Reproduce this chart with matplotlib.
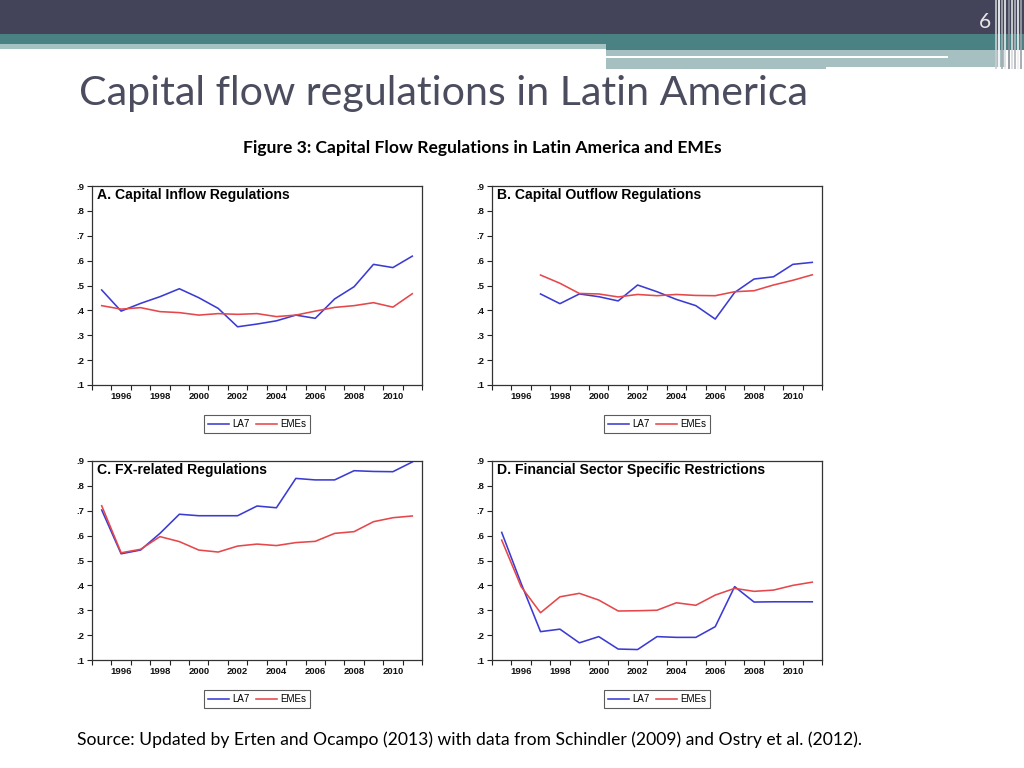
import matplotlib
matplotlib.use("Agg")
import matplotlib.pyplot as plt
from matplotlib.patches import Rectangle

# ---------------- data ----------------
years = list(range(1995, 2012))
years_b = list(range(1997, 2012))

a_la7 = [0.482, 0.397, 0.428, 0.455, 0.487, 0.451, 0.408, 0.334, 0.345, 0.358,
         0.381, 0.368, 0.446, 0.495, 0.585, 0.572, 0.618]
a_emes = [0.419, 0.405, 0.411, 0.395, 0.391, 0.381, 0.387, 0.384, 0.387, 0.375,
          0.381, 0.397, 0.412, 0.419, 0.431, 0.413, 0.467]

b_la7 = [0.466, 0.427, 0.466, 0.455, 0.438, 0.502, 0.475, 0.444, 0.419, 0.365,
         0.472, 0.526, 0.535, 0.585, 0.593]
b_emes = [0.542, 0.509, 0.468, 0.466, 0.454, 0.464, 0.459, 0.464, 0.460, 0.459,
          0.475, 0.479, 0.502, 0.521, 0.543]

c_la7 = [0.703, 0.527, 0.542, 0.609, 0.686, 0.680, 0.680, 0.680, 0.719, 0.712,
         0.830, 0.824, 0.824, 0.861, 0.858, 0.857, 0.896]
c_emes = [0.720, 0.531, 0.545, 0.596, 0.576, 0.542, 0.534, 0.558, 0.566, 0.560,
          0.572, 0.577, 0.609, 0.616, 0.656, 0.672, 0.679]

d_la7 = [0.613, 0.408, 0.214, 0.224, 0.169, 0.194, 0.144, 0.142, 0.194, 0.191,
         0.191, 0.234, 0.395, 0.333, 0.334, 0.334, 0.334]
d_emes = [0.582, 0.395, 0.290, 0.354, 0.368, 0.341, 0.297, 0.298, 0.300, 0.330,
          0.320, 0.361, 0.388, 0.376, 0.381, 0.400, 0.413]

panel_titles = ["A. Capital Inflow Regulations", "B. Capital Outflow Regulations",
                "C. FX-related Regulations", "D. Financial Sector Specific Restrictions"]
series_names = ["LA7", "EMEs"]
year_labels = ["1996", "1998", "2000", "2002", "2004", "2006", "2008", "2010"]
y_ticks = [0.1, 0.2, 0.3, 0.4, 0.5, 0.6, 0.7, 0.8, 0.9]
y_labels = [".1", ".2", ".3", ".4", ".5", ".6", ".7", ".8", ".9"]

slide_title = "Capital flow regulations in Latin America"
fig_caption = "Figure 3: Capital Flow Regulations in Latin America and EMEs"
source_note = "Source: Updated by Erten and Ocampo (2013) with data from Schindler (2009) and Ostry et al. (2012)."
page_number = "6"

# ---------------- figure ----------------
W, H = 1024, 768
fig = plt.figure(figsize=(W / 100, H / 100), dpi=100)
fig.patch.set_facecolor("white")

bg = fig.add_axes([0, 0, 1, 1], zorder=0)
bg.set_xlim(0, W)
bg.set_ylim(H, 0)
bg.axis("off")

# header bands
bg.add_patch(Rectangle((0, 0), W, 34, color="#434459", lw=0))
bg.add_patch(Rectangle((0, 34), W, 10, color="#4a8183", lw=0))
bg.add_patch(Rectangle((0, 44), 606, 5, color="#a6c3c4", lw=0))
bg.add_patch(Rectangle((606, 34), W - 606, 16, color="#4a8183", lw=0))
bg.add_patch(Rectangle((606, 50), 400, 17, color="#a6c0c2", lw=0))
bg.add_patch(Rectangle((606, 66), 220, 3, color="#a6c0c2", lw=0))
bg.add_patch(Rectangle((606, 55.5), 342, 2.5, color="white", lw=0))
# right vertical stripes
stripe_x = [995, 998, 1001, 1004, 1008, 1011, 1014, 1017, 1020]
stripe_c = ["#c8ccd0", "#ffffff", "#a8acb4", "#e8eaec", "#8a8e98", "#d8dadd", "#b0b4ba", "#f0f0f0", "#9ca0a8"]
for sx, sc in zip(stripe_x, stripe_c):
    bg.add_patch(Rectangle((sx, 0), 2, 69, color=sc, lw=0, alpha=0.85))

bg.text(985, 22, page_number, color="#e6e6e6", fontsize=15, ha="center", va="center",
        family="Lato")
bg.text(79, 93, slide_title, color="#4b4d5f", fontsize=29.6, ha="left", va="center",
        family="Lato")
bg.text(482, 147.5, fig_caption, color="black", fontsize=12.6, ha="center", va="center",
        family="Lato", weight="bold")
bg.text(77, 740, source_note, color="black", fontsize=12.6, ha="left", va="center",
        family="Lato")

blue = "#3b3bd4"
red = "#e5474b"

panels = [
    (92, 186, years, a_la7, years, a_emes),
    (492, 186, years_b, b_la7, years_b, b_emes),
    (92, 461, years, c_la7, years, c_emes),
    (492, 461, years, d_la7, years, d_emes),
]
aw, ah = 330, 199

for i, (px, py, xl, yl, xe, ye) in enumerate(panels):
    ax = fig.add_axes([px / W, 1 - (py + ah) / H, aw / W, ah / H], zorder=2)
    ax.plot([x + 0.5 for x in xl], yl, color=blue, lw=1.15, label=series_names[0],
            solid_joinstyle="round")
    ax.plot([x + 0.5 for x in xe], ye, color=red, lw=1.15, label=series_names[1],
            solid_joinstyle="round")
    ax.set_xlim(1995, 2012)
    ax.set_ylim(0.1, 0.9)
    ax.set_yticks(y_ticks)
    ax.set_yticklabels(y_labels)
    ax.set_xticks([int(l) + 0.5 for l in year_labels])
    ax.set_xticklabels(year_labels)
    ax.set_xticks(list(range(1995, 2013)), minor=True)
    ax.tick_params(axis="x", which="major", length=0, pad=5)
    ax.tick_params(axis="x", which="minor", length=3.5, width=0.8, direction="out",
                   color="#222222")
    ax.tick_params(axis="y", which="major", length=3.5, width=0.8, direction="out",
                   color="#222222", pad=2)
    for lab in ax.get_xticklabels() + ax.get_yticklabels():
        lab.set_fontfamily("Liberation Sans")
        lab.set_fontsize(6.8)
        lab.set_fontweight("bold")
        lab.set_color("#111111")
    for sp in ax.spines.values():
        sp.set_linewidth(0.9)
        sp.set_color("#333333")
    ax.text(0.016, 0.955, panel_titles[i], transform=ax.transAxes, ha="left", va="center",
            family="Liberation Sans", weight="bold", fontsize=10.1, color="black")
    leg = ax.legend(loc="center", bbox_to_anchor=(0.5, -0.196), ncol=2, frameon=True,
                    fancybox=False, edgecolor="#333333",
                    prop={"family": "Liberation Sans", "size": 7.0},
                    handlelength=2.2, handletextpad=0.3, columnspacing=0.7,
                    borderpad=0.4, borderaxespad=0)
    leg.get_frame().set_linewidth(0.8)

fig.savefig("out.png", dpi=100)
